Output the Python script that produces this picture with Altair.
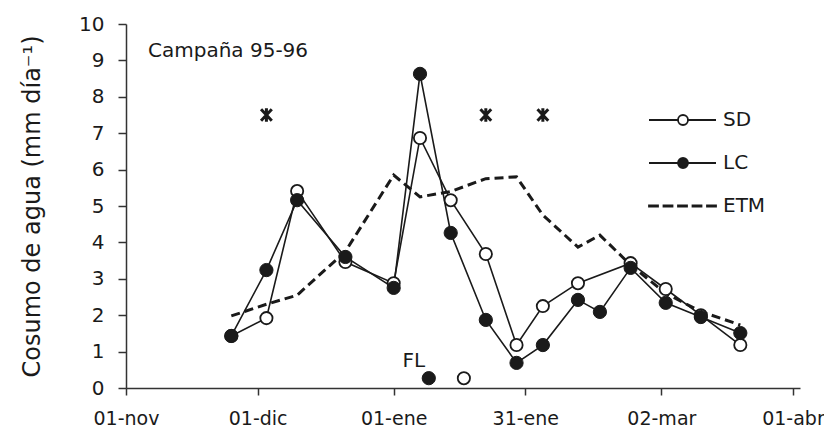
import altair as alt
import pandas as pd

# ---------------- data ----------------
SEASON_START = "1995-11-01"

tick_dates = ["1995-11-01", "1995-12-01", "1996-01-01", "1996-01-31", "1996-03-02", "1996-04-01"]
tick_labels = ["01-nov", "01-dic", "01-ene", "31-ene", "02-mar", "01-abr"]

sd_dates = ["1995-11-25", "1995-12-03", "1995-12-10", "1995-12-21", "1996-01-01", "1996-01-07",
            "1996-01-14", "1996-01-22", "1996-01-29", "1996-02-04", "1996-02-12", "1996-02-24",
            "1996-03-03", "1996-03-11", "1996-03-20"]
sd_values = [1.43, 1.92, 5.41, 3.46, 2.88, 6.87, 5.16, 3.68, 1.18, 2.25, 2.88, 3.43, 2.72, 2.00, 1.18]

lc_dates = ["1995-11-25", "1995-12-03", "1995-12-10", "1995-12-21", "1996-01-01", "1996-01-07",
            "1996-01-14", "1996-01-22", "1996-01-29", "1996-02-04", "1996-02-12", "1996-02-17",
            "1996-02-24", "1996-03-03", "1996-03-11", "1996-03-20"]
lc_values = [1.43, 3.24, 5.16, 3.60, 2.75, 8.63, 4.26, 1.87, 0.69, 1.18, 2.42, 2.09, 3.30, 2.34, 1.95, 1.51]

etm_dates = lc_dates
etm_values = [1.98, 2.30, 2.55, 3.75, 5.85, 5.25, 5.40, 5.75, 5.80, 4.75, 3.87, 4.20, 3.38, 2.60, 2.10, 1.73]

fl_sd_dates = ["1996-01-17"]
fl_sd_values = [0.27]
fl_lc_dates = ["1996-01-09"]
fl_lc_values = [0.27]
fl_label = "FL"

star_dates = ["1995-12-03", "1996-01-22", "1996-02-04"]
star_values = [7.5, 7.5, 7.5]

legend_series = ["SD", "LC", "ETM"]
campaign_title = "Campaña 95-96"
y_title = "Cosumo de agua (mm día⁻¹)"


def days(dates):
    start = pd.Timestamp(SEASON_START)
    return [(pd.Timestamp(d) - start).days for d in dates]


def frame(dates, values):
    return pd.DataFrame({"day": days(dates), "value": values})


tick_days = days(tick_dates)

# ---------------- style ----------------
FONT = "DejaVu Sans"
INK = "#1a1a1a"
AXIS_INK = "#333333"

label_expr = "[" + ",".join(f"'{t}'" for t in tick_labels) + "][indexof([" + \
    ",".join(str(d) for d in tick_days) + "], datum.value)]"

x_enc = alt.X(
    "day:Q",
    scale=alt.Scale(domain=[0, 153.6], nice=False, zero=False),
    axis=alt.Axis(values=tick_days, labelExpr=label_expr, title=None, grid=False,
                  tickSize=7, tickWidth=1.5, tickColor=AXIS_INK, domainColor=AXIS_INK,
                  domainWidth=1.5, labelFont=FONT, labelFontSize=19, labelColor=INK,
                  labelPadding=14, labelFlush=False, labelOverlap=False),
)
y_enc = alt.Y(
    "value:Q",
    scale=alt.Scale(domain=[0, 10], nice=False),
    axis=alt.Axis(values=list(range(11)), title=y_title, grid=False, tickSize=8,
                  tickWidth=1.5, tickColor=AXIS_INK, domainColor=AXIS_INK, domainWidth=1.5,
                  labelFont=FONT, labelFontSize=20, labelColor=INK, labelPadding=14,
                  titleFont=FONT, titleFontSize=24, titleFontWeight="normal",
                  titleColor=INK, titlePadding=34),
)

ASTERISK = "M-0.85,-0.9L0.85,0.9M0.85,-0.9L-0.85,0.9M0,-1.05L0,1.05"
LEG_CIRCLE = "M-1.8,0A0.5,0.5 0 1,0 -2.8,0A0.5,0.5 0 1,0 -1.8,0Z"
LEG_LINE = "M-5.7,0H-2.8M-1.8,0H1"
LEG_DASH = ("M-5.7,-0.07H-4.8V0.07H-5.7Z M-4.25,-0.07H-3.35V0.07H-4.25Z "
            "M-2.8,-0.07H-1.9V0.07H-2.8Z M-1.35,-0.07H-0.45V0.07H-1.35Z "
            "M0.1,-0.07H1.0V0.07H0.1Z")
legend_paths = [LEG_LINE + LEG_CIRCLE, LEG_LINE + LEG_CIRCLE, LEG_DASH]
legend_fills = ["white", INK, INK]
legend_strokes = [INK, INK, INK]

sd_df = frame(sd_dates, sd_values)
lc_df = frame(lc_dates, lc_values)
etm_df = frame(etm_dates, etm_values)
fl_sd_df = frame(fl_sd_dates, fl_sd_values)
fl_lc_df = frame(fl_lc_dates, fl_lc_values)
star_df = frame(star_dates, star_values)
legend_df = pd.DataFrame({"series": legend_series})

etm = alt.Chart(etm_df).mark_line(color=INK, strokeWidth=3, strokeDash=[9, 5]).encode(x=x_enc, y=y_enc)
sd_line = alt.Chart(sd_df).mark_line(color=INK, strokeWidth=1.6).encode(x=x_enc, y=y_enc)
lc_line = alt.Chart(lc_df).mark_line(color=INK, strokeWidth=1.6).encode(x=x_enc, y=y_enc)

sd_pts = alt.Chart(pd.concat([sd_df, fl_sd_df])).mark_point(
    shape="circle", size=150, filled=True, fill="white", stroke=INK, strokeWidth=1.8, opacity=1
).encode(x=x_enc, y=y_enc)
lc_pts = alt.Chart(pd.concat([lc_df, fl_lc_df])).mark_point(
    shape="circle", size=175, filled=True, fill=INK, stroke=INK, strokeWidth=1, opacity=1
).encode(x=x_enc, y=y_enc)

stars = alt.Chart(star_df).mark_point(
    shape=ASTERISK, size=160, filled=False, stroke=INK, strokeWidth=3, opacity=1
).encode(x=x_enc, y=y_enc)

fl_text = alt.Chart(fl_lc_df).mark_text(
    text=fl_label, dx=-15, dy=-17, fontSize=20, font=FONT, color=INK
).encode(x=x_enc, y=y_enc)

legend_common = dict(orient="none", legendX=569, legendY=85, symbolSize=400,
                     symbolStrokeWidth=1.8, symbolStrokeColor=INK, labelFont=FONT,
                     labelFontSize=20, labelColor=INK, labelOffset=6, rowPadding=22,
                     padding=0)

legend_layer = alt.Chart(legend_df).transform_filter("false").mark_point(
    filled=False, strokeWidth=1.8, opacity=1
).encode(
    shape=alt.Shape("series:N", scale=alt.Scale(domain=legend_series, range=legend_paths),
                    title=None, legend=alt.Legend(**legend_common)),
    fill=alt.Fill("series:N", scale=alt.Scale(domain=legend_series, range=legend_fills),
                  title=None, legend=alt.Legend(**legend_common)),
    stroke=alt.Stroke("series:N", scale=alt.Scale(domain=legend_series, range=legend_strokes),
                      title=None, legend=alt.Legend(**legend_common)),
)

chart = alt.layer(
    etm, sd_line, lc_line, sd_pts, lc_pts, stars, fl_text, legend_layer
).properties(
    width=674, height=364,
    padding={"left": 118, "top": 16, "right": 24, "bottom": 42},
    autosize="none",
    title=alt.TitleParams(campaign_title, anchor="start", frame="group", dx=22, dy=63,
                          offset=0, baseline="alphabetic", font=FONT, fontSize=20,
                          fontWeight="normal", color=INK),
).configure_view(stroke=None)

chart.save("out.html", embed_options={"renderer": "svg", "actions": False})
